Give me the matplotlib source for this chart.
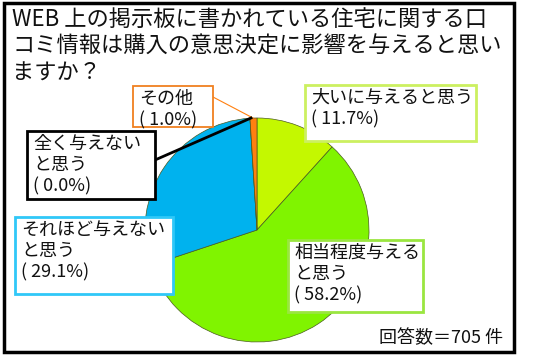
import matplotlib.pyplot as plt
from matplotlib.patches import Rectangle

plt.rcParams['font.family'] = ['Noto Sans CJK JP', 'DejaVu Sans']

# data, clockwise from the top
labels = ['大いに与えると思う', '相当程度与える\nと思う', 'それほど与えない\nと思う',
          '全く与えない\nと思う', 'その他']
shares = [11.7, 58.2, 29.1, 0.0, 1.0]
colors = ['#c4f800', '#80f400', '#00b2ee', '#000000', '#ff8010']
edge_colors = ['#ccf060', '#9ae640', '#30c8f8', '#000000', '#f08020']
title = 'WEB 上の掲示板に書かれている住宅に関する口\nコミ情報は購入の意思決定に影響を与えると思い\nますか？'
note = '回答数＝705 件'

# label boxes in pixels: left, top, right, bottom
boxes = [(305, 85, 476, 141), (288, 240, 423, 312), (15, 217, 173, 294),
         (27, 131, 155, 199), (133, 86, 213, 127)]

fig = plt.figure(figsize=(5.52, 3.57), dpi=100)
ax = fig.add_axes([0, 0, 1, 1])

cx, cy, r = 257, 230, 112
# y axis is flipped below, so visual clockwise = counterclock in data
ax.pie(shares, colors=colors, startangle=-90, counterclock=True,
       center=(cx, cy), radius=r,
       wedgeprops=dict(edgecolor='#4a5a20', linewidth=0.5))
ax.set_xlim(0, 552)
ax.set_ylim(357, 0)
ax.set_aspect('equal')
ax.axis('off')

# outer frame
ax.add_patch(Rectangle((4, 3), 510, 349, fill=False, edgecolor='black',
                       linewidth=2.5, zorder=5))

# leader lines
ax.plot([213, 253], [97, 118], color='#ff8010', lw=0.8, zorder=3)
ax.plot([155, 251], [160, 118], color='black', lw=2, zorder=3)

for lab, val, ec, (x0, y0, x1, y1) in zip(labels, shares, edge_colors, boxes):
    lw = 1.3 if lab == 'その他' else 2
    ax.add_patch(Rectangle((x0, y0), x1 - x0, y1 - y0, facecolor='white',
                           edgecolor=ec, linewidth=lw, zorder=4))
    ax.text(x0 + 6, y0 + 4, '{}\n( {:.1f}%)'.format(lab, val), fontsize=13,
            va='top', ha='left', linespacing=1.22, color='#111111', zorder=6)

ax.text(12, 8, title, fontsize=16, va='top', ha='left', linespacing=1.2,
        color='#111111')
ax.text(503, 338, note, fontsize=13, va='center', ha='right', color='#111111')

fig.savefig('out.png', dpi=100)
